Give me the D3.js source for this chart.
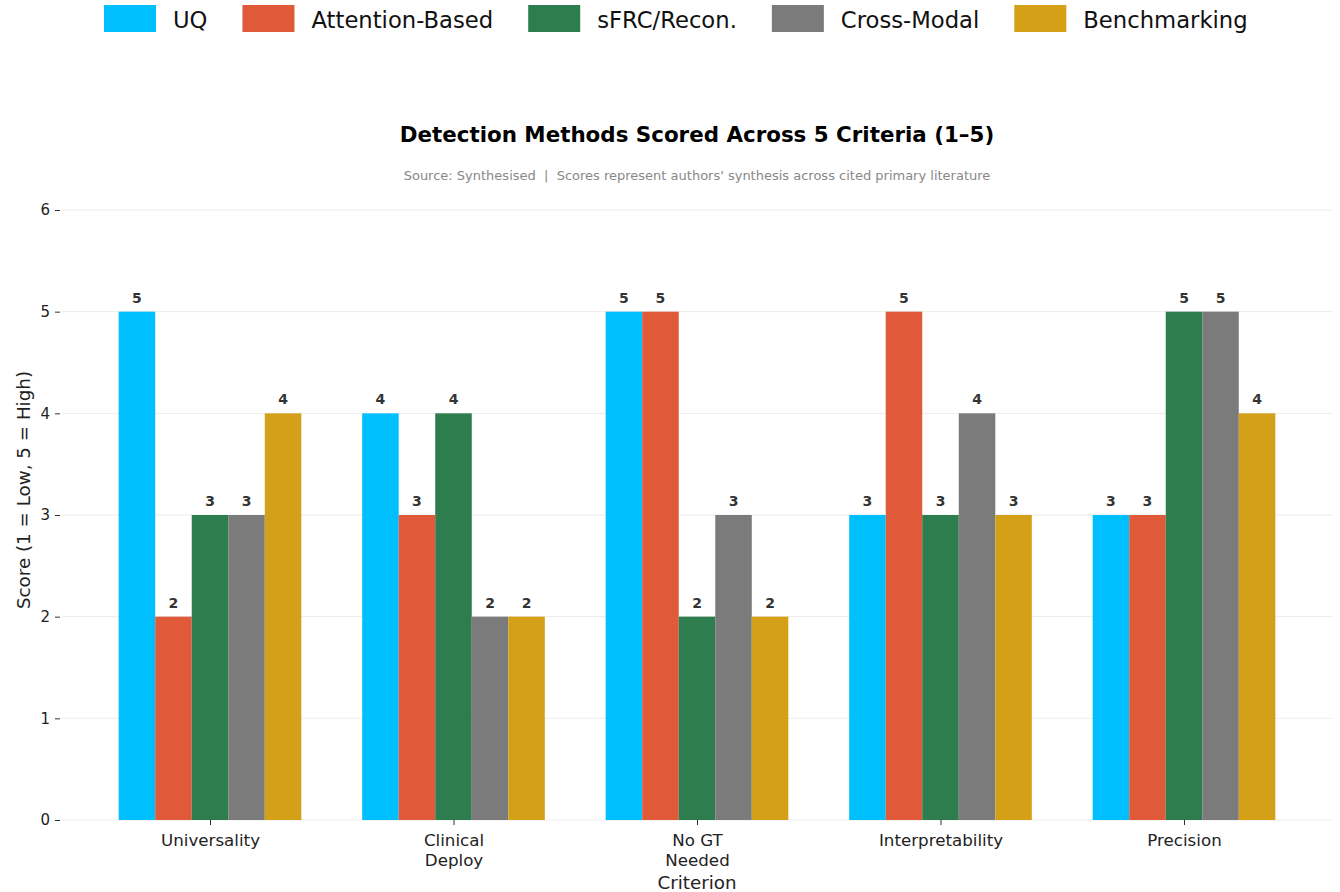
<!DOCTYPE html>
<html>
<head>
<meta charset="utf-8">
<script src="https://cdn.jsdelivr.net/npm/d3@7"></script>
<style>
  body { margin: 0; background: #fff; }
  svg, svg text { font-family: "DejaVu Sans", sans-serif; }
</style>
</head>
<body>
<svg id="chart" width="1340" height="892"></svg>
<script>
// chart data
var criteria = [["Universality"], ["Clinical", "Deploy"], ["No GT", "Needed"], ["Interpretability"], ["Precision"]];
var methods = ["UQ", "Attention-Based", "sFRC/Recon.", "Cross-Modal", "Benchmarking"];
var colors = ["#00BFFF", "#E05A3A", "#2E7D4F", "#7B7B7B", "#D4A017"];
var uqScores = [5, 4, 5, 3, 3];
var attentionScores = [2, 3, 5, 5, 3];
var sfrcScores = [3, 4, 2, 3, 5];
var crossModalScores = [3, 2, 3, 4, 5];
var benchScores = [4, 2, 2, 3, 4];
var yTicks = [0, 1, 2, 3, 4, 5, 6];

var series = [uqScores, attentionScores, sfrcScores, crossModalScores, benchScores];

var svg = d3.select("#chart");
var barW = 0.15;

// scales (x is in group-index units, like matplotlib)
var x = d3.scaleLinear().domain([-0.6, 4.6]).range([63.9, 1330.1]);
var y = d3.scaleLinear().domain([0, 6]).range([820, 210]);

// gridlines
svg.append("g")
    .selectAll("line")
    .data(yTicks)
    .join("line")
    .attr("x1", 62).attr("x2", 1333)
    .attr("y1", d => y(d)).attr("y2", d => y(d))
    .attr("stroke", "#e6e6e6")
    .attr("stroke-width", 0.8);

// y axis
var yAxis = svg.append("g")
    .attr("transform", "translate(60,0)")
    .call(d3.axisLeft(y).tickValues(yTicks).tickSize(5).tickPadding(5).tickFormat(d3.format("d")));
yAxis.select(".domain").remove();
yAxis.attr("font-family", null).attr("font-size", null);
yAxis.selectAll("line").attr("stroke", "#333");
yAxis.selectAll("text").style("font-size", "15px").attr("fill", "#222");

// x axis
var xAxis = svg.append("g")
    .attr("transform", "translate(0,820)")
    .call(d3.axisBottom(x).tickValues(d3.range(criteria.length)).tickSize(5).tickFormat(""));
xAxis.select(".domain").remove();
xAxis.attr("font-family", null).attr("font-size", null);
xAxis.selectAll("line").attr("stroke", "#333");
xAxis.selectAll(".tick").each(function (d) {
    var t = d3.select(this).append("text")
        .attr("text-anchor", "middle")
        .style("font-size", "16.7px")
        .attr("fill", "#222");
    criteria[d].forEach((line, i) => {
        t.append("tspan").attr("x", 0).attr("y", 26 + i * 20).text(line);
    });
});

// bars
series.forEach((vals, si) => {
    var g = svg.append("g");
    var off = (si - 2) * barW;
    g.selectAll("rect")
        .data(vals)
        .join("rect")
        .attr("x", (d, i) => x(i + off - barW / 2))
        .attr("width", x(barW) - x(0))
        .attr("y", d => y(d))
        .attr("height", d => y(0) - y(d))
        .attr("fill", colors[si]);
    g.selectAll("text")
        .data(vals)
        .join("text")
        .attr("x", (d, i) => x(i + off))
        .attr("y", d => y(d) - 9)
        .attr("text-anchor", "middle")
        .style("font-size", "14px")
        .attr("font-weight", "bold")
        .attr("fill", "#333")
        .text(d => d);
});

// axis titles
svg.append("text")
    .attr("x", 697).attr("y", 889)
    .attr("text-anchor", "middle")
    .style("font-size", "18.3px")
    .attr("fill", "#222")
    .text("Criterion");

svg.append("text")
    .attr("transform", "translate(30,490) rotate(-90)")
    .attr("text-anchor", "middle")
    .style("font-size", "18.3px")
    .attr("fill", "#222")
    .text("Score (1 = Low, 5 = High)");

// title + subtitle
svg.append("text")
    .attr("x", 697).attr("y", 142)
    .attr("text-anchor", "middle")
    .style("font-size", "21.4px")
    .attr("font-weight", "bold")
    .attr("fill", "#000")
    .text("Detection Methods Scored Across 5 Criteria (1\u20135)");

svg.append("text")
    .attr("x", 697).attr("y", 180)
    .attr("text-anchor", "middle")
    .style("font-size", "13px")
    .style("white-space", "pre")
    .attr("fill", "#888")
    .text("Source: Synthesised  |  Scores represent authors' synthesis across cited primary literature");

// legend
var legend = svg.append("g");
var lx = 104;
methods.forEach((m, i) => {
    legend.append("rect")
        .attr("x", lx).attr("y", 5)
        .attr("width", 52).attr("height", 27)
        .attr("fill", colors[i]);
    var t = legend.append("text")
        .attr("x", lx + 69).attr("y", 28)
        .style("font-size", "22.7px")
        .attr("fill", "#111")
        .text(m);
    lx += 69 + t.node().getComputedTextLength() + 35;
});
</script>
</body>
</html>
